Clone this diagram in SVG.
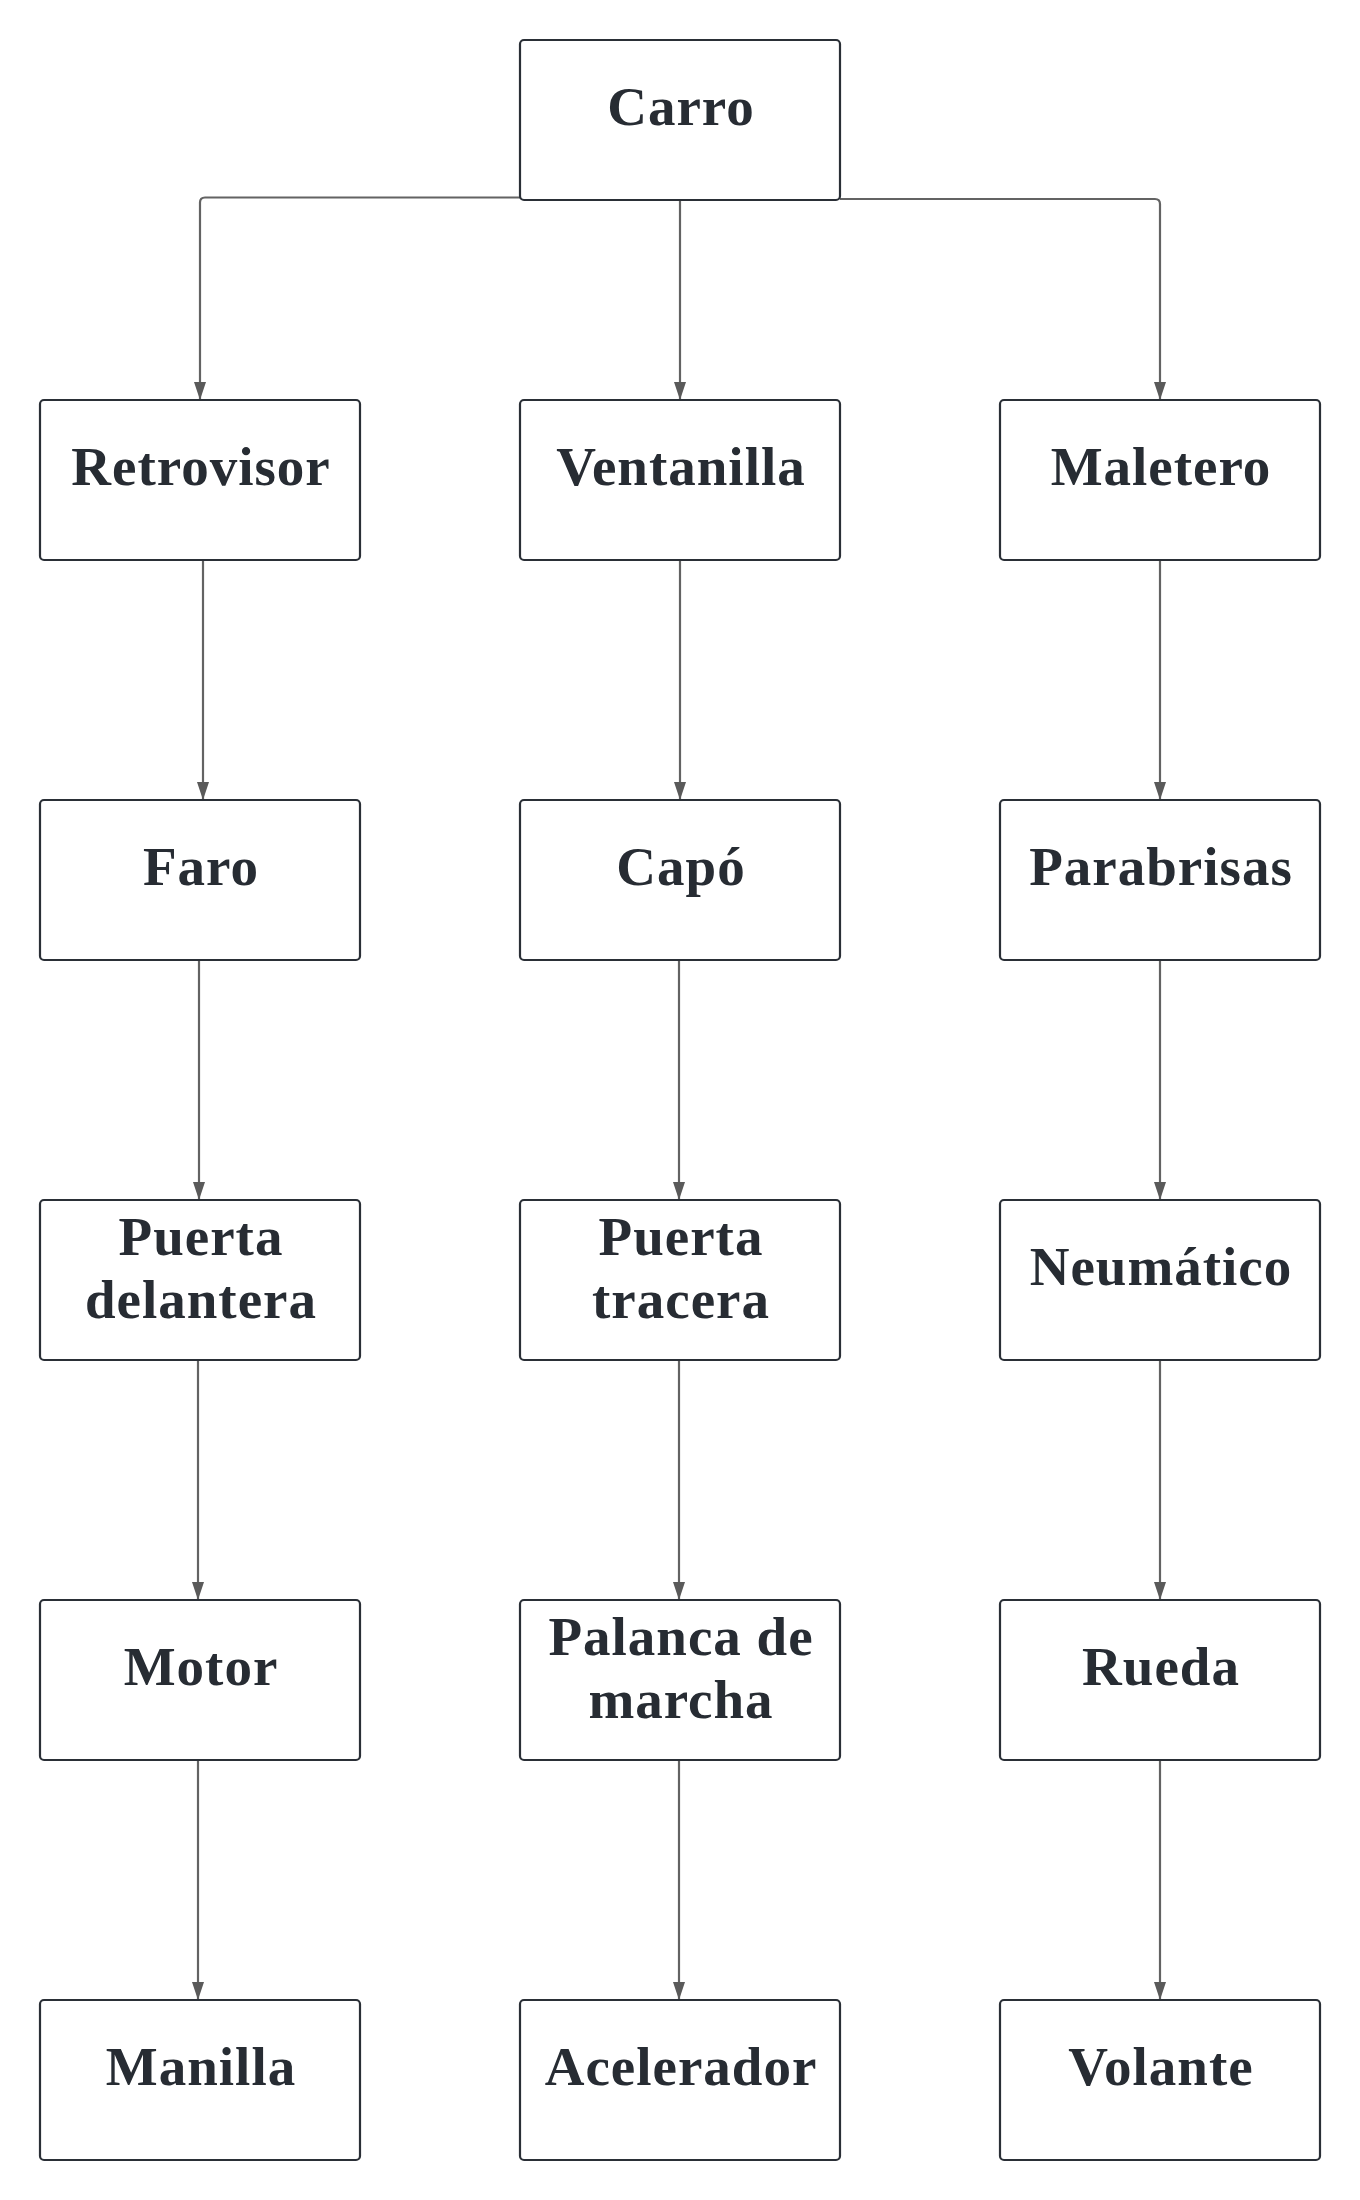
<svg xmlns="http://www.w3.org/2000/svg" width="1360" height="2200" viewBox="0 0 1360 2200">
<style>
.box{fill:#ffffff;stroke:#2a2f36;stroke-width:2.2}
.lbl{font-family:"Liberation Serif","Times New Roman",serif;font-weight:bold;font-size:55px;letter-spacing:1px;fill:#272c33;text-anchor:middle}
.conn{fill:none;stroke:#636363;stroke-width:2.2}
</style>
<defs>
<marker id="arr" viewBox="0 0 18 12" refX="18" refY="6" markerWidth="18" markerHeight="12" markerUnits="userSpaceOnUse" orient="auto">
<path d="M0,0 L18,6 L0,12 Z" fill="#5a5a5a"/>
</marker>
</defs>
<rect x="0" y="0" width="1360" height="2200" fill="#ffffff"/>
<g id="connectors">
<path class="conn" d="M520,197.5 L205,197.5 Q200,197.5 200,202.5 L200,400" marker-end="url(#arr)"/>
<path class="conn" d="M680,200 L680,400" marker-end="url(#arr)"/>
<path class="conn" d="M840,199 L1155,199 Q1160,199 1160,204 L1160,400" marker-end="url(#arr)"/>
<path class="conn" d="M203,560 L203,800" marker-end="url(#arr)"/>
<path class="conn" d="M199,960 L199,1200" marker-end="url(#arr)"/>
<path class="conn" d="M198,1360 L198,1600" marker-end="url(#arr)"/>
<path class="conn" d="M198,1760 L198,2000" marker-end="url(#arr)"/>
<path class="conn" d="M680,560 L680,800" marker-end="url(#arr)"/>
<path class="conn" d="M679,960 L679,1200" marker-end="url(#arr)"/>
<path class="conn" d="M679,1360 L679,1600" marker-end="url(#arr)"/>
<path class="conn" d="M679,1760 L679,2000" marker-end="url(#arr)"/>
<path class="conn" d="M1160,560 L1160,800" marker-end="url(#arr)"/>
<path class="conn" d="M1160,960 L1160,1200" marker-end="url(#arr)"/>
<path class="conn" d="M1160,1360 L1160,1600" marker-end="url(#arr)"/>
<path class="conn" d="M1160,1760 L1160,2000" marker-end="url(#arr)"/>
</g>
<g id="n-carro"><rect class="box" x="520" y="40" width="320" height="160" rx="4"/><text class="lbl" x="681" y="125">Carro</text></g>
<g id="n-retrovisor"><rect class="box" x="40" y="400" width="320" height="160" rx="4"/><text class="lbl" x="201" y="485">Retrovisor</text></g>
<g id="n-ventanilla"><rect class="box" x="520" y="400" width="320" height="160" rx="4"/><text class="lbl" x="681" y="485">Ventanilla</text></g>
<g id="n-maletero"><rect class="box" x="1000" y="400" width="320" height="160" rx="4"/><text class="lbl" x="1161" y="485">Maletero</text></g>
<g id="n-faro"><rect class="box" x="40" y="800" width="320" height="160" rx="4"/><text class="lbl" x="201" y="885">Faro</text></g>
<g id="n-capo"><rect class="box" x="520" y="800" width="320" height="160" rx="4"/><text class="lbl" x="681" y="885">Capó</text></g>
<g id="n-parabrisas"><rect class="box" x="1000" y="800" width="320" height="160" rx="4"/><text class="lbl" x="1161" y="885">Parabrisas</text></g>
<g id="n-puerta-delantera"><rect class="box" x="40" y="1200" width="320" height="160" rx="4"/><text class="lbl" x="201" y="1255">Puerta</text><text class="lbl" x="201" y="1318">delantera</text></g>
<g id="n-puerta-tracera"><rect class="box" x="520" y="1200" width="320" height="160" rx="4"/><text class="lbl" x="681" y="1255">Puerta</text><text class="lbl" x="681" y="1318">tracera</text></g>
<g id="n-neumatico"><rect class="box" x="1000" y="1200" width="320" height="160" rx="4"/><text class="lbl" x="1161" y="1285">Neumático</text></g>
<g id="n-motor"><rect class="box" x="40" y="1600" width="320" height="160" rx="4"/><text class="lbl" x="201" y="1685">Motor</text></g>
<g id="n-palanca"><rect class="box" x="520" y="1600" width="320" height="160" rx="4"/><text class="lbl" x="681" y="1655">Palanca de</text><text class="lbl" x="681" y="1718">marcha</text></g>
<g id="n-rueda"><rect class="box" x="1000" y="1600" width="320" height="160" rx="4"/><text class="lbl" x="1161" y="1685">Rueda</text></g>
<g id="n-manilla"><rect class="box" x="40" y="2000" width="320" height="160" rx="4"/><text class="lbl" x="201" y="2085">Manilla</text></g>
<g id="n-acelerador"><rect class="box" x="520" y="2000" width="320" height="160" rx="4"/><text class="lbl" x="681" y="2085">Acelerador</text></g>
<g id="n-volante"><rect class="box" x="1000" y="2000" width="320" height="160" rx="4"/><text class="lbl" x="1161" y="2085">Volante</text></g>
</svg>
